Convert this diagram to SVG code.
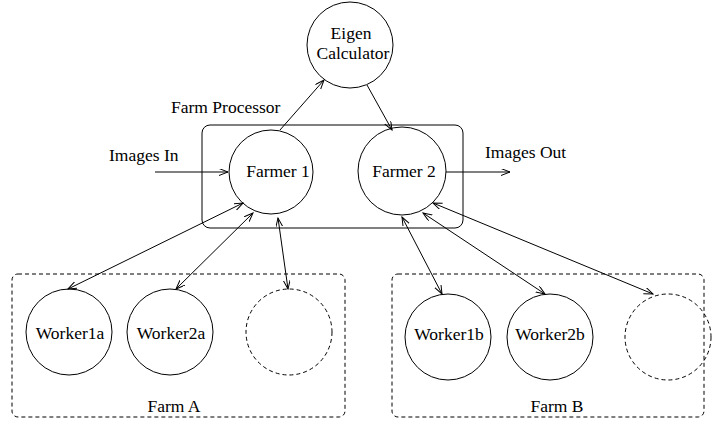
<svg xmlns="http://www.w3.org/2000/svg" width="714" height="421" viewBox="0 0 714 421" font-family="'Liberation Serif', Tinos, 'Times New Roman', 'DejaVu Serif', serif">
<style>
.n{fill:none;stroke:#000;stroke-width:1}
.d{fill:none;stroke:#000;stroke-width:1;stroke-dasharray:4,3}
text{font-family:'Liberation Serif', Tinos, 'Times New Roman', 'DejaVu Serif', serif;font-size:17.5px;fill:#000}
.c{text-anchor:middle}
.e{fill:none;stroke:#000;stroke-width:1}
</style>
<defs>
<marker id="ah" markerUnits="userSpaceOnUse" markerWidth="10" markerHeight="8" refX="9" refY="3.5" orient="auto-start-reverse">
<path d="M0,0 L9,3.5 L0,7" fill="none" stroke="#000" stroke-width="1"/>
</marker>
</defs>
<g id="farm-processor">
<rect class="n" x="202" y="125" width="261" height="103" rx="8"/>
<text x="171" y="113">Farm Processor</text>
</g>
<g id="farm-a">
<rect class="d" x="12" y="274" width="333" height="143" rx="6"/>
<text class="c" x="174" y="412">Farm A</text>
</g>
<g id="farm-b">
<rect class="d" x="392" y="274" width="312" height="143" rx="6"/>
<text class="c" x="557" y="412">Farm B</text>
</g>
<g id="eigen">
<circle class="n" cx="350" cy="45" r="43"/>
<text class="c" x="351" y="39">Eigen</text>
<text class="c" x="353" y="59">Calculator</text>
</g>
<g id="farmer1">
<circle class="n" cx="271" cy="172" r="42"/>
<text class="c" x="278" y="177">Farmer 1</text>
</g>
<g id="farmer2">
<circle class="n" cx="402" cy="171" r="44"/>
<text class="c" x="404" y="177">Farmer 2</text>
</g>
<g id="worker1a">
<circle class="n" cx="69" cy="332" r="43"/>
<text class="c" x="70" y="339">Worker1a</text>
</g>
<g id="worker2a">
<circle class="n" cx="170" cy="332" r="43"/>
<text class="c" x="171" y="339">Worker2a</text>
</g>
<g id="workerXa">
<circle class="d" cx="289" cy="332" r="43"/>
</g>
<g id="worker1b">
<circle class="n" cx="448" cy="337" r="43"/>
<text class="c" x="449" y="340">Worker1b</text>
</g>
<g id="worker2b">
<circle class="n" cx="550" cy="337" r="43"/>
<text class="c" x="550" y="340">Worker2b</text>
</g>
<g id="workerXb">
<circle class="d" cx="668" cy="337" r="43"/>
</g>
<g id="labels">
<text x="109" y="161">Images In</text>
<text x="485" y="158">Images Out</text>
</g>
<g id="connectors">
<line class="e" x1="155" y1="172" x2="228" y2="172" marker-end="url(#ah)"/>
<line class="e" x1="446" y1="172" x2="510" y2="172" marker-end="url(#ah)"/>
<line class="e" x1="280" y1="130" x2="324" y2="80" marker-end="url(#ah)"/>
<line class="e" x1="367" y1="85" x2="392" y2="130" marker-end="url(#ah)"/>
<line class="e" x1="243" y1="203" x2="68" y2="289" marker-start="url(#ah)" marker-end="url(#ah)"/>
<line class="e" x1="253" y1="213" x2="176" y2="289" marker-start="url(#ah)" marker-end="url(#ah)"/>
<line class="e" x1="278" y1="218" x2="288" y2="289" marker-start="url(#ah)" marker-end="url(#ah)"/>
<line class="e" x1="402" y1="217" x2="442" y2="294" marker-start="url(#ah)" marker-end="url(#ah)"/>
<line class="e" x1="423" y1="213" x2="545" y2="294" marker-start="url(#ah)" marker-end="url(#ah)"/>
<line class="e" x1="433" y1="203" x2="653" y2="294" marker-start="url(#ah)" marker-end="url(#ah)"/>
</g>
</svg>
